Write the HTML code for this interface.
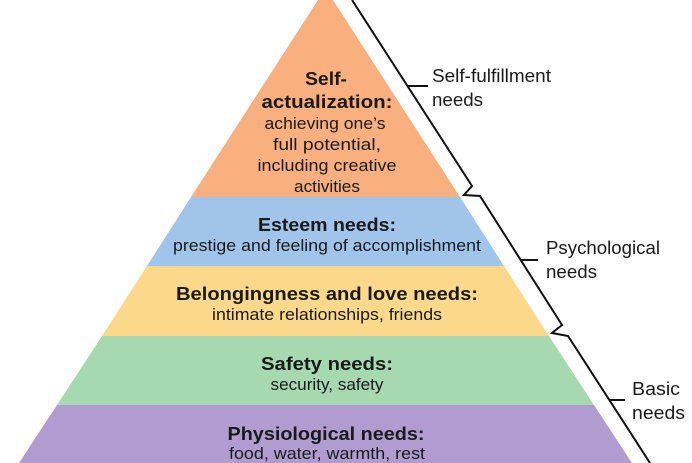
<!DOCTYPE html>
<html><head><meta charset="utf-8"><style>
html,body{margin:0;padding:0;background:#fff;}
svg{display:block;}
text{font-family:"Liberation Sans",sans-serif;fill:#1a1a1a;}
.b{font-weight:bold;font-size:18px;}
.r{font-size:16.5px;}
.s{font-size:18px;}
</style></head><body>
<svg width="692" height="463" viewBox="0 0 692 463" xmlns="http://www.w3.org/2000/svg">
<polygon points="318,0 333,0 460,197 191,197" fill="#f9b07e"/>
<polygon points="191,197 460,197 504,266 147,266" fill="#a0c4ea"/>
<polygon points="147,266 504,266 549,336 102,336" fill="#fcd88a"/>
<polygon points="102,336 549,336 594,405 57,405" fill="#a6d9b0"/>
<polygon points="57,405 594,405 632,463 19,463" fill="#b09ccf"/>
<g fill="none" stroke="#111" stroke-width="2">
<polyline points="352,0 472,186 464,195 480,196 562,325 552,333 568,336 650,463"/>
<line x1="408" y1="86" x2="428" y2="86"/>
<line x1="521" y1="260" x2="538" y2="260"/>
<line x1="609" y1="400" x2="625" y2="400"/>
</g>
<g text-anchor="middle">
<text class="b" x="326" y="85" textLength="42" lengthAdjust="spacingAndGlyphs">Self-</text>
<text class="b" x="327" y="108" textLength="131" lengthAdjust="spacingAndGlyphs">actualization:</text>
<text class="r" x="325" y="129" textLength="121" lengthAdjust="spacingAndGlyphs">achieving one’s</text>
<text class="r" x="327" y="150" textLength="108" lengthAdjust="spacingAndGlyphs">full potential,</text>
<text class="r" x="327" y="171" textLength="139" lengthAdjust="spacingAndGlyphs">including creative</text>
<text class="r" x="327" y="192" textLength="66" lengthAdjust="spacingAndGlyphs">activities</text>
<text class="b" x="327" y="231" textLength="138" lengthAdjust="spacingAndGlyphs">Esteem needs:</text>
<text class="r" x="327" y="251" textLength="308" lengthAdjust="spacingAndGlyphs">prestige and feeling of accomplishment</text>
<text class="b" x="327" y="300" textLength="302" lengthAdjust="spacingAndGlyphs">Belongingness and love needs:</text>
<text class="r" x="327" y="320" textLength="230" lengthAdjust="spacingAndGlyphs">intimate relationships, friends</text>
<text class="b" x="327" y="370" textLength="132" lengthAdjust="spacingAndGlyphs">Safety needs:</text>
<text class="r" x="327" y="390" textLength="113" lengthAdjust="spacingAndGlyphs">security, safety</text>
<text class="b" x="326" y="440" textLength="197" lengthAdjust="spacingAndGlyphs">Physiological needs:</text>
<text class="r" x="327" y="459" textLength="196" lengthAdjust="spacingAndGlyphs">food, water, warmth, rest</text>
</g>
<text class="s" x="432" y="82" textLength="119" lengthAdjust="spacingAndGlyphs">Self-fulfillment</text>
<text class="s" x="432" y="106" textLength="51" lengthAdjust="spacingAndGlyphs">needs</text>
<text class="s" x="546" y="254" textLength="114" lengthAdjust="spacingAndGlyphs">Psychological</text>
<text class="s" x="546" y="278" textLength="51" lengthAdjust="spacingAndGlyphs">needs</text>
<text class="s" x="632" y="395" textLength="48" lengthAdjust="spacingAndGlyphs">Basic</text>
<text class="s" x="632" y="419" textLength="53" lengthAdjust="spacingAndGlyphs">needs</text>
</svg>
</body></html>
